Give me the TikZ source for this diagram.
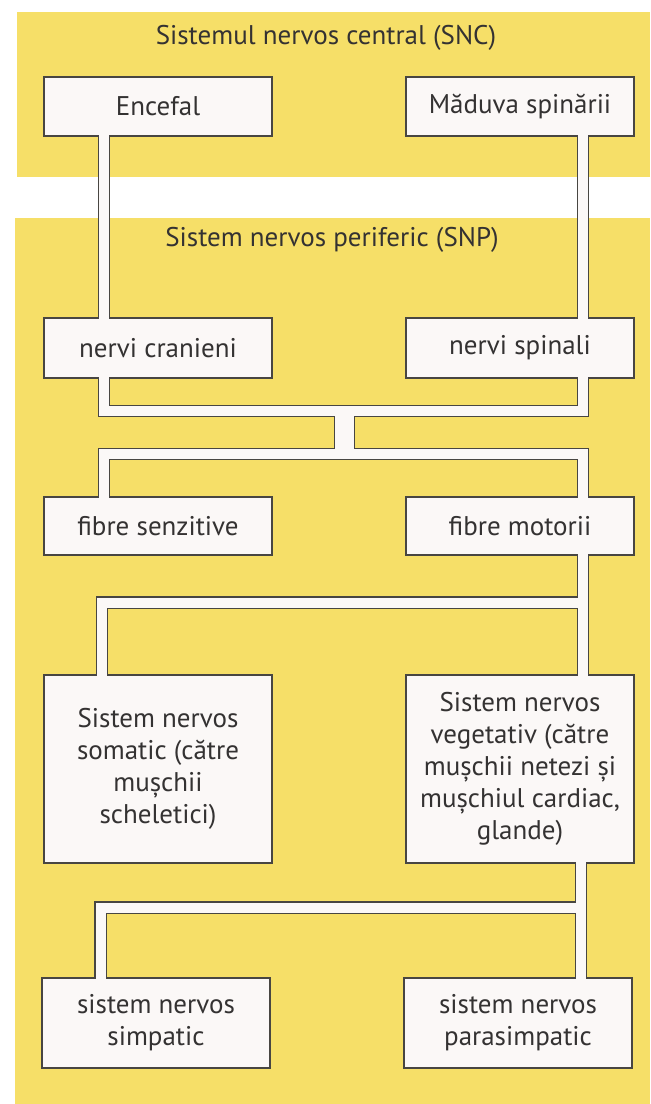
\documentclass[tikz,border=0pt]{standalone}
\usepackage{fontspec}
\setmainfont{PT Sans}
\usetikzlibrary{calc}
\definecolor{panelyellow}{RGB}{246,223,104}
\definecolor{linegray}{RGB}{72,70,66}
\definecolor{boxfill}{RGB}{251,248,247}
\definecolor{txt}{RGB}{52,50,50}
\pgfdeclarelayer{bgpanel}
\pgfdeclarelayer{bgpipe}
\pgfsetlayers{bgpanel,bgpipe,main}
\begin{document}
\begin{tikzpicture}[x=0.5pt,y=-0.5pt,
  box/.style={draw=linegray, line width=0.65pt, fill=boxfill, text=txt,
    font=\fontsize{13.5}{16}\selectfont, align=center, inner sep=0pt,
    minimum width=114pt},
  head/.style={text=txt, font=\fontsize{13.5}{16}\selectfont, inner sep=0pt},
  pipeout/.style={draw=linegray, line width=6.3pt, line join=miter, line cap=butt},
  pipein/.style={draw=boxfill, line width=5pt, line join=miter, line cap=butt,
    shorten <=-1.2pt, shorten >=-1.2pt},
  wideout/.style={pipeout, line width=10.5pt},
  widein/.style={pipein, line width=9.2pt},
]
\useasboundingbox (0,0) rectangle (650,1104);
% panels
\begin{pgfonlayer}{bgpanel}
\fill[white] (0,0) rectangle (650,1104);
\fill[panelyellow] (17,12) rectangle (650,177);
\fill[panelyellow] (15,218) rectangle (650,1104);
\end{pgfonlayer}

% headings
\node[head] (snc) at (326,38) {Sistemul nervos central (SNC)};
\node[head] (snp) at (332,240) {Sistem nervos periferic (SNP)};

% boxes
\node[box, minimum height=29.5pt] (enc) at (158,106.5) {Encefal};
\node[box, minimum height=29.5pt] (mad) at (520,106.5) {Măduva spinării};
\node[box, minimum height=30pt] (cran) at (158,348) {nervi cranieni};
\node[box, minimum height=30pt] (spin) at (520,348) {nervi spinali};
\node[box, minimum height=29pt] (senz) at (158,526) {fibre senzitive};
\node[box, minimum height=29pt] (mot) at (520,526) {fibre motorii};
\node[box, minimum height=94pt] (som) at (158,769)
  {Sistem nervos\\somatic (către\\mușchii\\scheletici)};
\node[box, minimum height=94pt] (veg) at (520,769)
  {Sistem nervos\\vegetativ (către\\mușchii netezi și\\mușchiul cardiac,\\glande)};
\node[box, minimum height=45pt] (simp) at (156,1023) {sistem nervos\\simpatic};
\node[box, minimum height=45pt] (para) at (518,1023) {sistem nervos\\parasimpatic};

% pipe axes and junctions
\coordinate (L) at (104,0);
\coordinate (R) at (583,0);
\coordinate (L2) at (102,0);
\coordinate (L3) at (100.5,0);
\coordinate (R2) at (581,0);
\coordinate (j1) at (344.5,411);
\coordinate (j2) at (344.5,454);
\coordinate (j3) at (583,602.5);
\coordinate (j4) at (581,907.5);

% pipe outlines
\begin{pgfonlayer}{bgpipe}
\draw[pipeout] (enc.south -| L) -- (cran.north -| L);
\draw[pipeout] (mad.south -| R) -- (spin.north -| R);
\draw[pipeout] (cran.south -| L) |- (j1) -| (spin.south -| R);
\draw[pipeout] (senz.north -| L) |- (j2) -| (mot.north -| R);
\draw[wideout] (j1) -- (j2);
\draw[pipeout] (mot.south -| R) -- (veg.north -| R);
\draw[pipeout] (j3) -| (som.north -| L2);
\draw[pipeout] (veg.south -| R2) -- (para.north -| R2);
\draw[pipeout] (j4) -| (simp.north -| L3);
\end{pgfonlayer}

% pipe interiors
\draw[pipein] (enc.south -| L) -- (cran.north -| L);
\draw[pipein] (mad.south -| R) -- (spin.north -| R);
\draw[pipein] (cran.south -| L) |- (j1) -| (spin.south -| R);
\draw[pipein] (senz.north -| L) |- (j2) -| (mot.north -| R);
\draw[widein, shorten <=0pt, shorten >=0pt] (j1) -- (j2);
\draw[pipein] (mot.south -| R) -- (veg.north -| R);
\draw[pipein, shorten <=0pt] (j3) -| (som.north -| L2);
\draw[pipein] (veg.south -| R2) -- (para.north -| R2);
\draw[pipein, shorten <=0pt] (j4) -| (simp.north -| L3);
\end{tikzpicture}
\end{document}
